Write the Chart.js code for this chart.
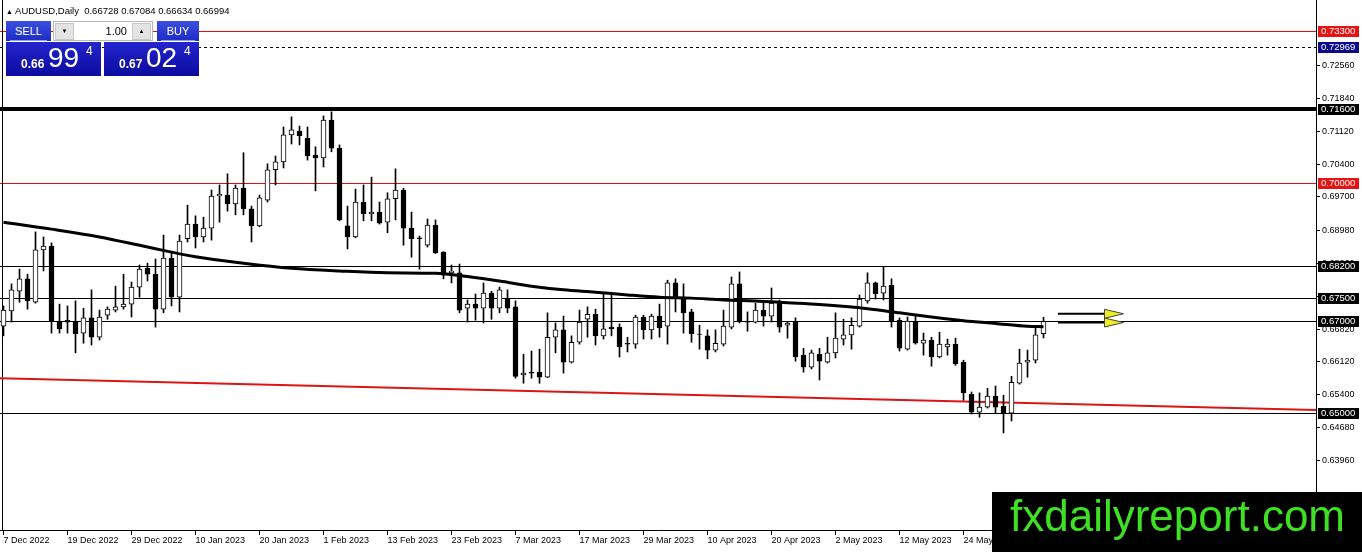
<!DOCTYPE html>
<html>
<head>
<meta charset="utf-8">
<script src="https://cdn.jsdelivr.net/npm/chart.js@4.4.1/dist/chart.umd.min.js"></script>
<style>
html, body { margin: 0; padding: 0; background: #fff; }
#wrap { position: relative; width: 1362px; height: 552px; overflow: hidden; font-family: "Liberation Sans", Arial, sans-serif; }
#chart { position: absolute; left: 0; top: 0; }
#title { position: absolute; left: 6px; top: 5px; font-size: 9.5px; line-height: 12px; color: #000; white-space: pre; }
#title .tri { font-size: 7px; }
.btn { position: absolute; top: 21px; height: 20px; color: #fff; font-size: 11px; line-height: 20px; text-align: center; background: linear-gradient(#3d4fe2, #1d2cc4); }
.btn::after { content: ''; position: absolute; left: 4px; right: 4px; bottom: 0; height: 1px; background: #8f9cf0; }
#sellBtn { left: 6px; width: 45px; }
#buyBtn { left: 157px; width: 42px; }
#lot { position: absolute; left: 53px; top: 21px; width: 100px; height: 20px; background: #fff; border: 1px solid #b8b8b8; box-sizing: border-box; }
.spin { position: absolute; top: 1px; width: 17px; height: 15px; background: #e4e4e4; border: 1px solid #c8c8c8; font-size: 6px; line-height: 15px; text-align: center; color: #000; }
#lotDn { left: 1px; }
#lotUp { right: 1px; }
#lotVal { position: absolute; right: 25px; top: 0; line-height: 18px; font-size: 11px; color: #000; }
.quote { position: absolute; top: 42px; height: 34px; width: 95px; background: linear-gradient(#2424cc, #0b0ba0); color: #fff; }
#sellQ { left: 6px; }
#buyQ { left: 104px; }
.q1 { position: absolute; left: 15px; top: 16px; font-size: 12px; font-weight: bold; line-height: 1; }
.q2 { position: absolute; left: 42px; top: 2px; font-size: 28px; line-height: 1; }
.q3 { position: absolute; left: 80px; top: 3px; font-size: 12px; line-height: 1; }
#wm { position: absolute; left: 992px; top: 492px; width: 370px; height: 60px; background: #000; color: #3fe024; font-size: 44px; line-height: 48px; padding-left: 18px; box-sizing: border-box; white-space: nowrap; }
</style>
</head>
<body>
<div id="wrap">
  <canvas id="chart" width="1362" height="552"></canvas>
  <div id="title"></div>
  <div class="btn" id="sellBtn">SELL</div>
  <div id="lot"><div class="spin" id="lotDn">▼</div><span id="lotVal">1.00</span><div class="spin" id="lotUp">▲</div></div>
  <div class="btn" id="buyBtn">BUY</div>
  <div class="quote" id="sellQ"><span class="q1"></span><span class="q2"></span><span class="q3"></span></div>
  <div class="quote" id="buyQ"><span class="q1"></span><span class="q2"></span><span class="q3"></span></div>
  <div id="wm">fxdailyreport.com</div>
</div>
<script>
// AUDUSD daily candles, 7 Dec 2022 .. 7 Jun 2023 (one entry per trading day)
const opens = [
  0.6689, 0.6722, 0.6765, 0.6792, 0.6741, 0.6855, 0.6863, 0.6700, 0.6702, 0.6700,
  0.6674, 0.6707, 0.6665, 0.6713, 0.6724, 0.6731, 0.6737, 0.6774, 0.6815, 0.6802,
  0.6726, 0.6837, 0.6752, 0.6879, 0.6911, 0.6883, 0.6902, 0.6972, 0.6974, 0.6955,
  0.6989, 0.6944, 0.6907, 0.6963, 0.7029, 0.7046, 0.7105, 0.7113, 0.7098, 0.7061,
  0.7055, 0.7137, 0.7076, 0.6907, 0.6883, 0.6959, 0.6933, 0.6937, 0.6915, 0.6966,
  0.6985, 0.6902, 0.6881, 0.6865, 0.6909, 0.6850, 0.6805, 0.6805, 0.6728, 0.6737,
  0.6728, 0.6761, 0.6728, 0.6748, 0.6731, 0.6583, 0.6589, 0.6589, 0.6578, 0.6665,
  0.6681, 0.6611, 0.6654, 0.6704, 0.6715, 0.6668, 0.6687, 0.6687, 0.6652, 0.6650,
  0.6709, 0.6681, 0.6711, 0.6689, 0.6783, 0.6750, 0.6720, 0.6672, 0.6668, 0.6637,
  0.6650, 0.6687, 0.6781, 0.6700, 0.6698, 0.6724, 0.6711, 0.6741, 0.6691, 0.6698,
  0.6626, 0.6600, 0.6628, 0.6611, 0.6631, 0.6661, 0.6670, 0.6689, 0.6744, 0.6783,
  0.6761, 0.6778, 0.6702, 0.6639, 0.6700, 0.6652, 0.6659, 0.6622, 0.6644, 0.6650,
  0.6611, 0.6541, 0.6502, 0.6513, 0.6537, 0.6515, 0.6500, 0.6565, 0.6611, 0.6615,
  0.66728
];
const highs = [
  0.6733, 0.6781, 0.6813, 0.6802, 0.6894, 0.6883, 0.6870, 0.6737, 0.6733, 0.6744,
  0.6728, 0.6768, 0.6724, 0.6731, 0.6776, 0.6802, 0.6785, 0.6822, 0.6826, 0.6835,
  0.6887, 0.6848, 0.6887, 0.6952, 0.6929, 0.6926, 0.6985, 0.6996, 0.7020, 0.6996,
  0.7066, 0.6950, 0.6974, 0.7042, 0.7059, 0.7122, 0.7144, 0.7124, 0.7122, 0.7079,
  0.7146, 0.7155, 0.7083, 0.6950, 0.6987, 0.6996, 0.7013, 0.6959, 0.6979, 0.7031,
  0.6989, 0.6937, 0.6885, 0.6922, 0.6920, 0.6851, 0.6822, 0.6824, 0.6746, 0.6759,
  0.6783, 0.6765, 0.6774, 0.6768, 0.6744, 0.6628, 0.6635, 0.6639, 0.6718, 0.6696,
  0.6711, 0.6668, 0.6724, 0.6731, 0.6726, 0.6759, 0.6757, 0.6694, 0.6665, 0.6713,
  0.6713, 0.6715, 0.6737, 0.6789, 0.6792, 0.6781, 0.6726, 0.6691, 0.6681, 0.6681,
  0.6724, 0.6796, 0.6807, 0.6720, 0.6739, 0.6741, 0.6772, 0.6746, 0.6698, 0.6707,
  0.6641, 0.6637, 0.6641, 0.6665, 0.6718, 0.6704, 0.6707, 0.6757, 0.6805, 0.6785,
  0.6818, 0.6792, 0.6707, 0.6709, 0.6711, 0.6674, 0.6665, 0.6676, 0.6661, 0.6663,
  0.6615, 0.6546, 0.6544, 0.6554, 0.6559, 0.6539, 0.6580, 0.6639, 0.6637, 0.6685,
  0.67084
];
const lows = [
  0.6668, 0.6698, 0.6741, 0.6726, 0.6739, 0.6809, 0.6674, 0.6674, 0.6674, 0.6631,
  0.6652, 0.6648, 0.6659, 0.6704, 0.6720, 0.6726, 0.6709, 0.6752, 0.6787, 0.6687,
  0.6718, 0.6733, 0.6720, 0.6872, 0.6859, 0.6872, 0.6876, 0.6915, 0.6939, 0.6931,
  0.6931, 0.6872, 0.6905, 0.6959, 0.6996, 0.7033, 0.7085, 0.7083, 0.7050, 0.6983,
  0.7035, 0.7068, 0.6918, 0.6857, 0.6881, 0.6918, 0.6918, 0.6911, 0.6892, 0.6920,
  0.6865, 0.6839, 0.6813, 0.6861, 0.6847, 0.6792, 0.6783, 0.6718, 0.6698, 0.6702,
  0.6696, 0.6704, 0.6718, 0.6718, 0.6576, 0.6565, 0.6576, 0.6565, 0.6577, 0.6631,
  0.6587, 0.6609, 0.6650, 0.6665, 0.6648, 0.6661, 0.6668, 0.6622, 0.6633, 0.6641,
  0.6661, 0.6661, 0.6665, 0.6650, 0.6720, 0.6674, 0.6654, 0.6639, 0.6618, 0.6633,
  0.6646, 0.6683, 0.6696, 0.6678, 0.6696, 0.6689, 0.6698, 0.6676, 0.6663, 0.6613,
  0.6589, 0.6596, 0.6572, 0.6609, 0.6620, 0.6648, 0.6639, 0.6687, 0.6739, 0.6748,
  0.6746, 0.6687, 0.6635, 0.6637, 0.6650, 0.6626, 0.6602, 0.6620, 0.6626, 0.6604,
  0.6528, 0.6498, 0.6491, 0.6511, 0.6500, 0.6457, 0.6483, 0.6563, 0.6578, 0.6609,
  0.66634
];
const closes = [
  0.6724, 0.6768, 0.6792, 0.6744, 0.6855, 0.6863, 0.6700, 0.6683, 0.6698, 0.6672,
  0.6707, 0.6665, 0.6709, 0.6726, 0.6731, 0.6737, 0.6774, 0.6813, 0.6802, 0.6726,
  0.6837, 0.6752, 0.6874, 0.6911, 0.6883, 0.6902, 0.6972, 0.6976, 0.6955, 0.6989,
  0.6944, 0.6907, 0.6968, 0.7029, 0.7046, 0.7105, 0.7116, 0.7103, 0.7059, 0.7055,
  0.7137, 0.7076, 0.6920, 0.6883, 0.6959, 0.6933, 0.6937, 0.6913, 0.6966, 0.6985,
  0.6902, 0.6879, 0.6879, 0.6909, 0.6848, 0.6800, 0.6809, 0.6724, 0.6737, 0.6728,
  0.6761, 0.6728, 0.6768, 0.6728, 0.6580, 0.6587, 0.6587, 0.6578, 0.6665, 0.6681,
  0.6611, 0.6654, 0.6698, 0.6715, 0.6668, 0.6683, 0.6683, 0.6644, 0.6650, 0.6709,
  0.6681, 0.6711, 0.6685, 0.6783, 0.6750, 0.6718, 0.6672, 0.6671, 0.6637, 0.6652,
  0.6689, 0.6781, 0.6700, 0.6698, 0.6724, 0.6711, 0.6739, 0.6687, 0.6696, 0.6622,
  0.6600, 0.6631, 0.6613, 0.6631, 0.6663, 0.6670, 0.6691, 0.6748, 0.6783, 0.6759,
  0.6776, 0.6700, 0.6641, 0.6700, 0.6652, 0.6659, 0.6622, 0.6650, 0.6650, 0.6607,
  0.6544, 0.6502, 0.6513, 0.6537, 0.6513, 0.6500, 0.6567, 0.6609, 0.6615, 0.6670,
  0.66994
];

// moving average, read at these bar numbers
const maBars = [0, 6, 12, 18, 24, 30, 36, 42, 48, 54, 58, 62, 66, 70, 74, 78, 82, 86, 90, 94, 98, 102, 108, 112, 116, 120, 124, 128, 130];
const maValues = [0.6915, 0.6900, 0.6883, 0.6861, 0.6840, 0.6826, 0.6815, 0.6809, 0.6805, 0.6804, 0.6797, 0.6787, 0.6776, 0.6768, 0.6763, 0.6757, 0.6752, 0.6750, 0.6746, 0.6744, 0.6740, 0.6736, 0.6727, 0.6718, 0.6709, 0.6701, 0.6695, 0.6689, 0.6688];

// date labels, one every 8 bars
const dateTicks = ['7 Dec 2022', '19 Dec 2022', '29 Dec 2022', '10 Jan 2023', '20 Jan 2023', '1 Feb 2023', '13 Feb 2023', '23 Feb 2023',
  '7 Mar 2023', '17 Mar 2023', '29 Mar 2023', '10 Apr 2023', '20 Apr 2023', '2 May 2023', '12 May 2023', '24 May 2023'];
const priceTicks = [0.7256, 0.7184, 0.7112, 0.7040, 0.6970, 0.6898, 0.6826, 0.6754, 0.6682, 0.6612, 0.6540, 0.6468, 0.6396];

// drawn objects
const levelPrices = [0.733, 0.72969, 0.716, 0.700, 0.682, 0.675, 0.670, 0.650];
const trendBars = [-0.44, 164.06];
const trendPrices = [0.6576, 0.6507];
const arrowLevels = [0.6716, 0.6697];
const arrowBars = [131.8, 140.0];

const symbol = 'AUDUSD';
const period = 'Daily';
const bid = 0.66994;
const ask = 0.67024;

// ---- html bits ----
const last = opens.length - 1;
document.getElementById('title').innerHTML = '<span class="tri">▲</span> ' + symbol + ',' + period + '  ' +
  [opens[last], highs[last], lows[last], closes[last]].map(v => v.toFixed(5)).join(' ');

function fillQuote(id, price) {
  const s = price.toFixed(5);
  const el = document.getElementById(id);
  el.querySelector('.q1').textContent = s.slice(0, 4);
  el.querySelector('.q2').textContent = s.slice(4, 6);
  el.querySelector('.q3').textContent = s.slice(6);
}
fillQuote('sellQ', bid);
fillQuote('buyQ', ask);

// ---- chart ----
const levelStyles = [
  { line: '#e01010', width: 1, box: '#e81212' },
  { line: '#000000', width: 1, dash: [3, 3], box: '#0a0a8a' },
  { line: '#000000', width: 4, box: '#000000' },
  { line: '#e01010', width: 1, box: '#e81212' },
  { line: '#000000', width: 1, box: '#000000' },
  { line: '#000000', width: 1, box: '#000000' },
  { line: '#000000', width: 1, box: '#000000' },
  { line: '#000000', width: 1, box: '#000000' }
];

const levelsPlugin = {
  id: 'levels',
  beforeDatasetsDraw(chart) {
    const { ctx, chartArea: a, scales: { y } } = chart;
    ctx.save();
    levelPrices.forEach((p, k) => {
      const st = levelStyles[k];
      const py = Math.round(y.getPixelForValue(p)) + (st.width % 2 ? 0.5 : 0);
      ctx.strokeStyle = st.line;
      ctx.lineWidth = st.width;
      ctx.setLineDash(st.dash || []);
      ctx.beginPath();
      ctx.moveTo(a.left, py);
      ctx.lineTo(a.right, py);
      ctx.stroke();
    });
    ctx.setLineDash([]);
    ctx.strokeStyle = '#000';
    ctx.lineWidth = 1;
    ctx.beginPath();
    ctx.moveTo(2.5, a.top);
    ctx.lineTo(2.5, a.bottom);
    ctx.stroke();
    ctx.restore();
  },
  afterDraw(chart) {
    const { ctx, chartArea: a, scales: { y } } = chart;
    ctx.save();
    ctx.font = '9.5px "Liberation Sans", Arial, sans-serif';
    ctx.textBaseline = 'middle';
    levelPrices.forEach((p, k) => {
      const py = Math.round(y.getPixelForValue(p));
      ctx.fillStyle = levelStyles[k].box;
      ctx.fillRect(a.right + 2, py - 5, 41, 11);
      ctx.fillStyle = '#fff';
      ctx.fillText(p.toFixed(5), a.right + 5, py + 0.5);
    });
    ctx.restore();
  }
};

const arrowsPlugin = {
  id: 'arrows',
  afterDatasetsDraw(chart) {
    const { ctx, scales: { x, y } } = chart;
    const x0 = x.getPixelForValue(arrowBars[0]);
    const x1 = x.getPixelForValue(arrowBars[1]);
    const head = 19;
    ctx.save();
    arrowLevels.forEach(p => {
      const py = y.getPixelForValue(p);
      ctx.strokeStyle = '#000';
      ctx.lineWidth = 2;
      ctx.beginPath();
      ctx.moveTo(x0, py);
      ctx.lineTo(x1 - head, py);
      ctx.stroke();
      ctx.beginPath();
      ctx.moveTo(x1 - head, py - 4.5);
      ctx.lineTo(x1, py);
      ctx.lineTo(x1 - head, py + 4.5);
      ctx.closePath();
      ctx.fillStyle = '#eeee22';
      ctx.fill();
      ctx.lineWidth = 1;
      ctx.strokeStyle = '#444';
      ctx.stroke();
    });
    ctx.restore();
  }
};

const bodies = opens.map((o, i) => ({ x: i, y: [o, closes[i]] }));
const wicks = opens.map((o, i) => ({ x: i, y: [lows[i], highs[i]] }));
const bodyColors = opens.map((o, i) => closes[i] >= o ? '#ffffff' : '#000000');
const tickFont = { family: '"Liberation Sans", Arial, sans-serif', size: 9 };

new Chart(document.getElementById('chart'), {
  type: 'bar',
  data: {
    datasets: [
      {
        type: 'line',
        label: 'MA',
        data: maBars.map((b, k) => ({ x: b, y: maValues[k] })),
        borderColor: '#000',
        borderWidth: 3,
        pointRadius: 0,
        cubicInterpolationMode: 'monotone',
        order: 0
      },
      {
        label: 'body',
        data: bodies,
        backgroundColor: bodyColors,
        borderColor: '#000',
        borderWidth: 1,
        borderSkipped: false,
        barThickness: 5,
        grouped: false,
        order: 1
      },
      {
        label: 'wick',
        data: wicks,
        backgroundColor: '#000',
        borderWidth: 0,
        barThickness: 1,
        grouped: false,
        order: 2
      },
      {
        type: 'line',
        label: 'trend',
        data: trendBars.map((b, k) => ({ x: b, y: trendPrices[k] })),
        borderColor: '#dd1414',
        borderWidth: 2,
        pointRadius: 0,
        order: 3
      }
    ]
  },
  options: {
    responsive: false,
    animation: false,
    devicePixelRatio: 1,
    layout: { padding: 0 },
    plugins: { legend: { display: false }, tooltip: { enabled: false } },
    scales: {
      x: {
        type: 'linear',
        min: -0.4375,
        max: 164.0625,
        offset: false,
        grid: { drawOnChartArea: false, offset: false, tickLength: 5, color: '#000' },
        border: { display: true, color: '#000' },
        ticks: {
          align: 'start', maxRotation: 0, autoSkip: false, padding: 0,
          color: '#000', font: tickFont,
          callback: v => dateTicks[Math.round(v / 8)] || ''
        },
        afterBuildTicks: s => { s.ticks = dateTicks.map((_, k) => ({ value: k * 8 })); },
        afterFit: s => { s.height = 22; s.paddingLeft = 0; s.paddingRight = 0; }
      },
      y: {
        type: 'linear',
        position: 'right',
        min: 0.6246,
        max: 0.7398,
        grid: { drawOnChartArea: false, tickLength: 4, color: '#000' },
        border: { display: true, color: '#000' },
        ticks: { padding: 2, color: '#000', font: tickFont, callback: v => v.toFixed(5) },
        afterBuildTicks: s => { s.ticks = priceTicks.map(v => ({ value: v })); },
        afterFit: s => { s.width = 46; s.paddingTop = 0; s.paddingBottom = 0; }
      }
    }
  },
  plugins: [levelsPlugin, arrowsPlugin]
});
</script>
</body>
</html>
